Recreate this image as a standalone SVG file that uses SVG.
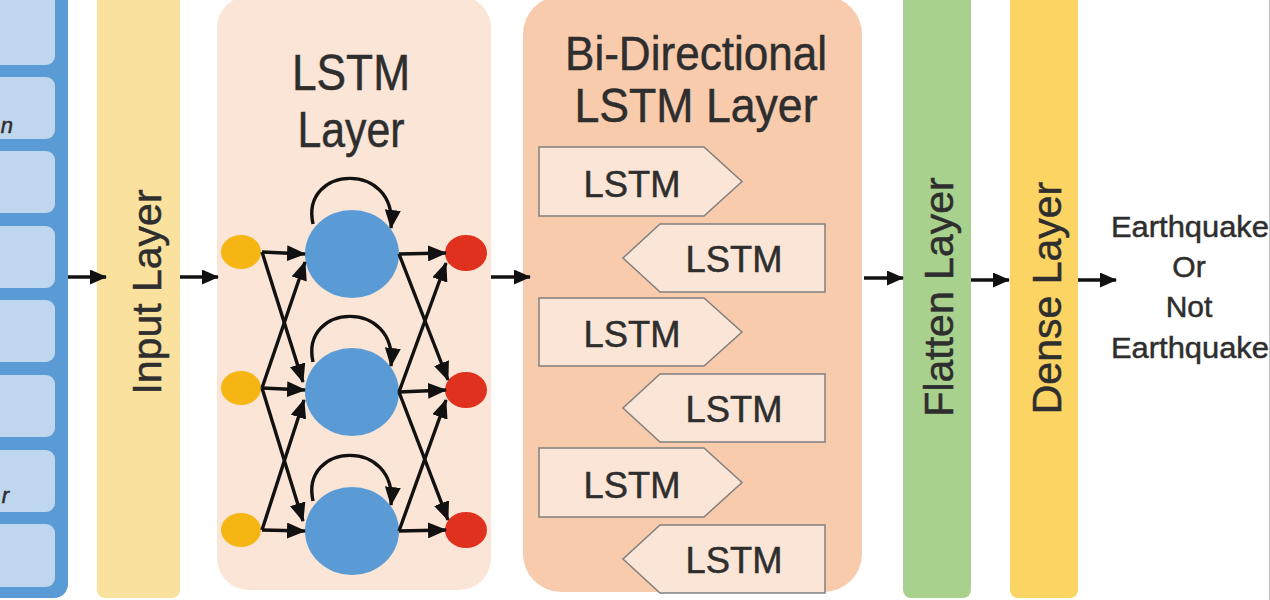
<svg xmlns="http://www.w3.org/2000/svg" width="1270" height="600" viewBox="0 0 1270 600">
<defs>
<style>
.lbl{font-family:"Liberation Sans",Arial,sans-serif;fill:#2e2e2e;stroke:#2e2e2e;stroke-width:0.5;}
.cell{fill:#BFD7EE;}
.box{fill:#FBE5D6;stroke:#808080;stroke-width:1.5;}
.con{stroke:#111;stroke-width:3.5;fill:none;marker-end:url(#ah);}
.net{stroke:#111;stroke-width:3.4;fill:none;marker-end:url(#ah2);}
</style>
<marker id="ah" markerUnits="userSpaceOnUse" markerWidth="17" markerHeight="15" refX="16" refY="7.5" orient="auto"><path d="M0,0 L17,7.5 L0,15 z" fill="#111"/></marker>
<marker id="ah2" markerUnits="userSpaceOnUse" markerWidth="19" markerHeight="16" refX="18" refY="8" orient="auto"><path d="M0,0 L19,8 L0,16 z" fill="#111"/></marker>
</defs>
<rect width="1270" height="600" fill="#ffffff"/>

<g id="input-sequence">
<rect x="-30" y="-20" width="98" height="618" rx="14" fill="#5B9BD5"/>
<rect class="cell" x="-20" y="-10" width="75" height="75" rx="9"/>
<rect class="cell" x="-20" y="77" width="75" height="62" rx="9"/>
<rect class="cell" x="-20" y="151" width="75" height="62" rx="9"/>
<rect class="cell" x="-20" y="226" width="75" height="62" rx="9"/>
<rect class="cell" x="-20" y="300" width="75" height="62" rx="9"/>
<rect class="cell" x="-20" y="375" width="75" height="62" rx="9"/>
<rect class="cell" x="-20" y="450" width="75" height="62" rx="9"/>
<rect class="cell" x="-20" y="524" width="75" height="63" rx="9"/>
<text class="lbl" x="13" y="133" font-size="22" font-style="italic" text-anchor="end">n</text>
<text class="lbl" x="9" y="503" font-size="22" font-style="italic" text-anchor="end">r</text>
</g>

<g id="input-layer">
<rect x="97" y="-10" width="83" height="608" rx="8" fill="#FAE29E"/>
<text class="lbl" transform="translate(146,292) rotate(-90)" y="15" font-size="41" text-anchor="middle">Input Layer</text>
</g>

<g id="lstm-layer">
<rect x="217" y="-4" width="274" height="594" rx="32" fill="#FBE5D6"/>
<text class="lbl" x="351" y="90" font-size="50" text-anchor="middle" textLength="118" lengthAdjust="spacingAndGlyphs">LSTM</text>
<text class="lbl" x="351" y="147" font-size="50" text-anchor="middle" textLength="107" lengthAdjust="spacingAndGlyphs">Layer</text>
<g id="lstm-inputs" fill="#F5B614">
<ellipse cx="241" cy="252" rx="20" ry="17"/>
<ellipse cx="241" cy="388" rx="20" ry="17"/>
<ellipse cx="241" cy="530" rx="20" ry="17"/>
</g>
<g id="lstm-cells" fill="#5B9BD5">
<ellipse cx="352" cy="254" rx="47" ry="44"/>
<ellipse cx="352" cy="392" rx="47" ry="44"/>
<ellipse cx="352" cy="531" rx="47" ry="44"/>
</g>
<g id="lstm-outputs" fill="#E0301E">
<ellipse cx="466" cy="253" rx="21" ry="18"/>
<ellipse cx="466" cy="390" rx="21" ry="18"/>
<ellipse cx="466" cy="530" rx="21" ry="18"/>
</g>
</g>

<g id="bilstm-layer">
<rect x="523" y="-4" width="339" height="596" rx="38" fill="#F8CBAD"/>
<text class="lbl" x="696" y="70" font-size="48" text-anchor="middle" textLength="262" lengthAdjust="spacingAndGlyphs">Bi-Directional</text>
<text class="lbl" x="696" y="122" font-size="48" text-anchor="middle" textLength="243" lengthAdjust="spacingAndGlyphs">LSTM Layer</text>
<g id="fwd1"><path class="box" d="M539,147 H704 L742,181.5 L704,216 H539 Z"/><text class="lbl" x="632" y="197" font-size="37" text-anchor="middle" textLength="97" lengthAdjust="spacingAndGlyphs">LSTM</text></g>
<g id="bwd1"><path class="box" d="M825,224 H660 L623,258 L660,292 H825 Z"/><text class="lbl" x="734" y="272" font-size="37" text-anchor="middle" textLength="97" lengthAdjust="spacingAndGlyphs">LSTM</text></g>
<g id="fwd2"><path class="box" d="M539,298 H704 L742,332 L704,366 H539 Z"/><text class="lbl" x="632" y="347" font-size="37" text-anchor="middle" textLength="97" lengthAdjust="spacingAndGlyphs">LSTM</text></g>
<g id="bwd2"><path class="box" d="M825,374 H660 L623,408 L660,442 H825 Z"/><text class="lbl" x="734" y="422" font-size="37" text-anchor="middle" textLength="97" lengthAdjust="spacingAndGlyphs">LSTM</text></g>
<g id="fwd3"><path class="box" d="M539,448 H704 L742,482.5 L704,517 H539 Z"/><text class="lbl" x="632" y="498" font-size="37" text-anchor="middle" textLength="97" lengthAdjust="spacingAndGlyphs">LSTM</text></g>
<g id="bwd3"><path class="box" d="M825,525 H660 L623,559 L660,593 H825 Z"/><text class="lbl" x="734" y="573" font-size="37" text-anchor="middle" textLength="97" lengthAdjust="spacingAndGlyphs">LSTM</text></g>
</g>

<g id="flatten-layer">
<rect x="903" y="-10" width="68" height="608" rx="8" fill="#A9D18E"/>
<text class="lbl" transform="translate(938,297) rotate(-90)" y="15" font-size="41" text-anchor="middle">Flatten Layer</text>
</g>

<g id="dense-layer">
<rect x="1010" y="-10" width="68" height="608" rx="8" fill="#FCD464"/>
<text class="lbl" transform="translate(1046,298) rotate(-90)" y="15" font-size="41" text-anchor="middle">Dense Layer</text>
</g>

<g id="output">
<text class="lbl" x="1189" font-size="30" text-anchor="middle" fill="#444" stroke="#444" stroke-width="0.3"><tspan x="1190" y="237" textLength="158" lengthAdjust="spacingAndGlyphs">Earthquake</tspan><tspan x="1189" y="277">Or</tspan><tspan x="1189" y="317">Not</tspan><tspan x="1190" y="358" textLength="158" lengthAdjust="spacingAndGlyphs">Earthquake</tspan></text>
<line x1="1269.5" y1="0" x2="1269.5" y2="600" stroke="#bdbdbd" stroke-width="1"/>
</g>

<g id="connectors">
<line class="con" x1="68" y1="277" x2="106" y2="277"/>
<line class="con" x1="180" y1="277" x2="218" y2="277"/>
<line class="con" x1="491" y1="277" x2="530" y2="277"/>
<line class="con" x1="864" y1="278" x2="903" y2="278"/>
<line class="con" x1="971" y1="280" x2="1009" y2="280"/>
<line class="con" x1="1078" y1="280" x2="1116" y2="280"/>
<path class="net" d="M313,224 C300,165 398,160 391,228"/>
<path class="net" d="M313,362 C300,303 398,298 391,366"/>
<path class="net" d="M313,501 C300,442 398,437 391,505"/>
<line class="net" x1="262" y1="252" x2="305" y2="254"/>
<line class="net" x1="262" y1="252" x2="303" y2="382"/>
<line class="net" x1="262" y1="388" x2="305" y2="262"/>
<line class="net" x1="262" y1="388" x2="305" y2="390"/>
<line class="net" x1="262" y1="388" x2="303" y2="521"/>
<line class="net" x1="262" y1="530" x2="304" y2="400"/>
<line class="net" x1="262" y1="530" x2="305" y2="531"/>
<line class="net" x1="399" y1="254" x2="446" y2="253"/>
<line class="net" x1="399" y1="254" x2="448" y2="380"/>
<line class="net" x1="399" y1="392" x2="446" y2="263"/>
<line class="net" x1="399" y1="392" x2="446" y2="390"/>
<line class="net" x1="399" y1="392" x2="448" y2="520"/>
<line class="net" x1="399" y1="531" x2="446" y2="400"/>
<line class="net" x1="399" y1="531" x2="446" y2="530"/>
</g>
</svg>
